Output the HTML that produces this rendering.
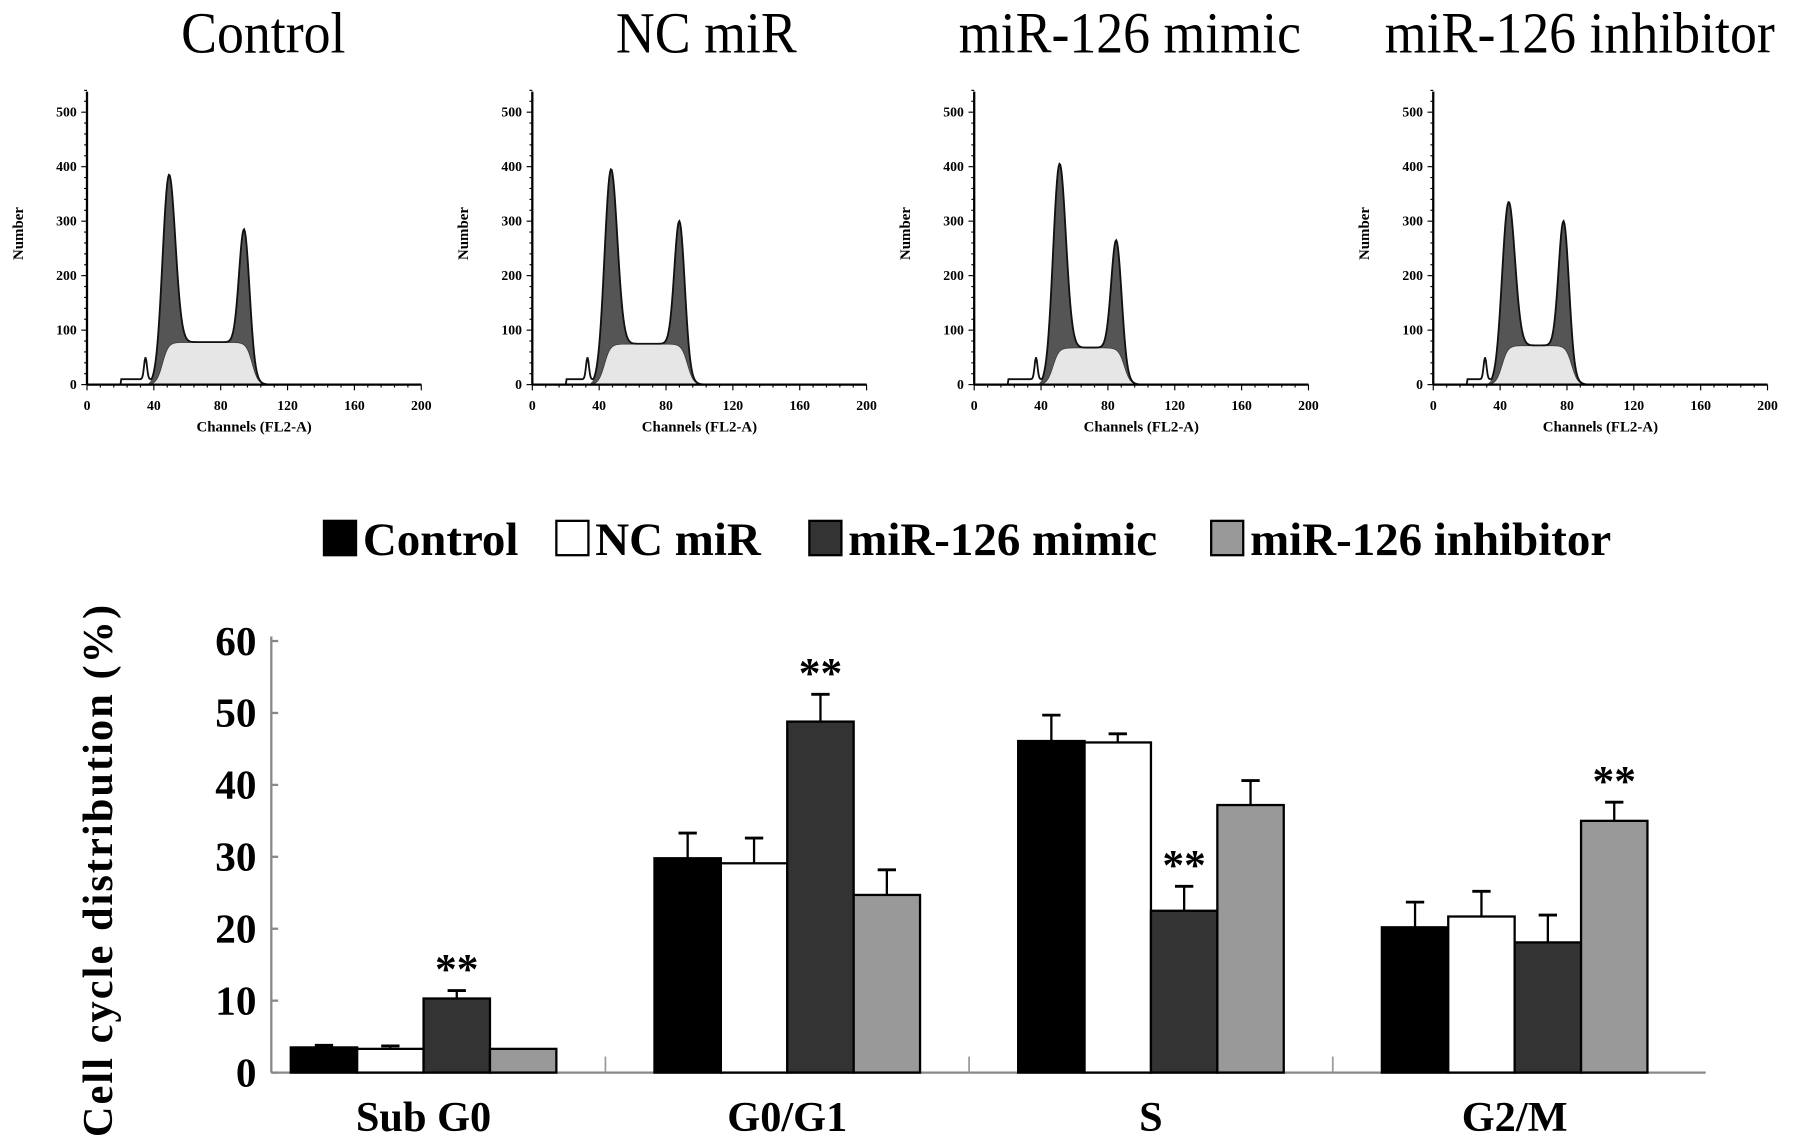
<!DOCTYPE html>
<html><head><meta charset="utf-8">
<style>
html,body{margin:0;padding:0;background:#fff;}
svg{display:block;font-family:"Liberation Serif",serif;}
</style></head>
<body>
<svg id="fig" width="1795" height="1147" viewBox="0 0 1568 1002" preserveAspectRatio="none" xmlns="http://www.w3.org/2000/svg">
<g id="hists"></g>
<g id="bars"></g>
</svg>
<script>
// ---- histogram data ----
const panelTitles = ["Control", "NC miR", "miR-126 mimic", "miR-126 inhibitor"];
const g1Pos = [49, 47, 51, 45];
const g1Height = [385, 395, 405, 335];
const g2Pos = [94, 88, 85, 78];
const g2Height = [285, 300, 265, 300];
const sLevel = [78, 75, 68, 72];
const histXTicks = [0, 40, 80, 120, 160, 200];
const histYTicks = [0, 100, 200, 300, 400, 500];

// ---- bar chart data ----
const categories = ["Sub G0", "G0/G1", "S", "G2/M"];
const seriesNames = ["Control", "NC miR", "miR-126 mimic", "miR-126 inhibitor"];
const controlVals = [3.5, 29.8, 46.1, 20.2];
const ncVals = [3.3, 29.1, 45.9, 21.7];
const mimicVals = [10.3, 48.8, 22.5, 18.1];
const inhibitorVals = [3.3, 24.7, 37.2, 35.0];
const controlErr = [0.3, 3.5, 3.6, 3.5];
const ncErr = [0.4, 3.5, 1.2, 3.5];
const mimicErr = [1.1, 3.8, 3.4, 3.8];
const inhibitorErr = [0, 3.5, 3.4, 2.6];
const starred = [[2, 0], [2, 1], [2, 2], [3, 3]]; // [series, category]
const yTicks = [0, 10, 20, 30, 40, 50, 60];

const NS = "http://www.w3.org/2000/svg";
function mk(tag, attrs, parent, text) {
  const e = document.createElementNS(NS, tag);
  for (const k in attrs) e.setAttribute(k, attrs[k]);
  if (text !== undefined) e.textContent = text;
  parent.appendChild(e);
  return e;
}

// ---------- histograms ----------
const hg = document.getElementById("hists");
const panelX0 = [76, 465, 851, 1252];
const titleX = [230, 617, 987, 1380];
const hy0 = 336, hyScale = (336 - 98) / 500, hxScale = (368 - 76) / 200;
for (let p = 0; p < 4; p++) {
  const g = mk("g", {}, hg);
  
  
  const X = c => panelX0[p] + c * hxScale;
  const Y = v => hy0 - v * hyScale;
  const t = mk("text", {x: titleX[p], y: 46, "font-size": 47, "text-anchor": "middle", transform: `translate(${titleX[p]},46) scale(1,1.08) translate(${-titleX[p]},-46)`}, g, panelTitles[p]);
  
  
  const p1 = g1Pos[p], p2 = g2Pos[p], s1 = 3.8, s2 = 3.0;
  const sig = (x) => 1 / (1 + Math.exp(-x));
  const sf = c => sLevel[p] * sig((c - (p1 - 4)) / 1.8) * sig(((p2 + 5) - c) / 1.8);
  const a1amp = g1Height[p] - sf(p1), a2amp = g2Height[p] - sf(p2);
  const g1 = c => a1amp * Math.exp(-((c - p1) ** 2) / (2 * s1 * s1));
  const g2 = c => a2amp * Math.exp(-((c - p2) ** 2) / (2 * s2 * s2));
  const debris = c => (c > 20 && c < p1 - 6 ? 10 : 0) + 40 * Math.exp(-((c - (p1 - 14)) ** 2) / 1.5);
  let sPath = "", env = "";
  for (let c = 0; c <= 200; c += 0.5) {
    const s = sf(c), a = g1(c), b = g2(c);
    const tot = Math.max(s + a + b, debris(c) * (c < p1 - 5 ? 1 : 0));
    sPath += (c === 0 ? "M" : "L") + X(c) + "," + Y(s);
    env += (c === 0 ? "M" : "L") + X(c) + "," + Y(tot);
  }
  sPath += "L" + X(200) + "," + Y(0) + "L" + X(0) + "," + Y(0) + "Z";
  function peakPath(lo, hi) {
    let top = "", bot = "";
    for (let c = lo; c <= hi; c += 0.5) {
      top += (c === lo ? "M" : "L") + X(c) + "," + Y(sf(c) + g1(c) + g2(c));
    }
    for (let c = hi; c >= lo; c -= 0.5) bot += "L" + X(c) + "," + Y(sf(c));
    return top + bot + "Z";
  }
  const sp = mk("path", {d: sPath, fill: "#e6e6e6", stroke: "#333", "stroke-width": 1.2}, g);
  
  
  const a1 = mk("path", {d: peakPath(p1 - 12, p1 + 12), fill: "#555", stroke: "none"}, g);
  
  
  const a2 = mk("path", {d: peakPath(p2 - 10, p2 + 10), fill: "#555", stroke: "none"}, g);
  
  
  const en = mk("path", {d: env, fill: "none", stroke: "#111", "stroke-width": 1.6}, g);
  
  
  mk("line", {x1: X(0), y1: 80, x2: X(0), y2: hy0, stroke: "#000", "stroke-width": 2}, g);
  mk("line", {x1: X(0), y1: hy0, x2: X(200), y2: hy0, stroke: "#000", "stroke-width": 2}, g);
  for (let v = 0; v <= 540; v += 20) mk("line", {x1: X(0) - (v % 100 === 0 ? 5 : 2.5), y1: Y(v), x2: X(0), y2: Y(v), stroke: "#000", "stroke-width": 1}, g);
  for (let c = 0; c <= 200; c += 8) mk("line", {x1: X(c), y1: hy0, x2: X(c), y2: hy0 + (c % 40 === 0 ? 5 : 2.5), stroke: "#000", "stroke-width": 1}, g);
  histYTicks.forEach(v => mk("text", {x: X(0) - 9, y: Y(v) + 4, "font-size": 12, "font-weight": "bold", "text-anchor": "end"}, g, v));
  histXTicks.forEach(c => mk("text", {x: X(c), y: 358, "font-size": 12, "font-weight": "bold", "text-anchor": "middle"}, g, c));
  const xl = mk("text", {x: X(100), y: 377, "font-size": 13, "font-weight": "bold", "text-anchor": "middle"}, g, "Channels (FL2-A)");
  
  
  const yl = mk("text", {x: 0, y: 0, "font-size": 13, "font-weight": "bold", "text-anchor": "middle", transform: `translate(${X(0) - 56},204) rotate(-90)`}, g, "Number");
  
  
}

// ---------- bar chart ----------
const bg = document.getElementById("bars");
const axX = 237, y0 = 937, yPer = (937 - 560) / 60;
const Yb = v => y0 - v * yPer;
const groupCenter = i => 370 + i * 317.7;
const barW = 58;
const fills = ["#000", "#fff", "#333", "#999"];
const vals = [controlVals, ncVals, mimicVals, inhibitorVals];
const errs = [controlErr, ncErr, mimicErr, inhibitorErr];

const legX = [283, 486, 707, 1058];
for (let s = 0; s < 4; s++) {
  const lg = mk("g", {}, bg);
  
  
  mk("rect", {x: legX[s], y: 455, width: 28, height: 30, fill: fills[s], stroke: "#000", "stroke-width": 2}, lg);
  mk("text", {x: legX[s] + 34, y: 485, "font-size": 41, "font-weight": "bold"}, lg, seriesNames[s]);
}
mk("line", {x1: axX, y1: 556, x2: axX, y2: y0, stroke: "#888", "stroke-width": 2}, bg);
mk("line", {x1: axX, y1: y0, x2: 1490, y2: y0, stroke: "#888", "stroke-width": 2}, bg);
yTicks.forEach(v => {
  mk("line", {x1: axX, y1: Yb(v), x2: axX + 6, y2: Yb(v), stroke: "#888", "stroke-width": 2}, bg);
  const t = mk("text", {x: 224, y: Yb(v) + 12, "font-size": 36, "font-weight": "bold", "text-anchor": "end"}, bg, v);
  
  
});
for (let i = 1; i < 4; i++) {
  const sx = (groupCenter(i - 1) + groupCenter(i)) / 2;
  mk("line", {x1: sx, y1: y0 - 14, x2: sx, y2: y0, stroke: "#999", "stroke-width": 1.5}, bg);
}
const yt = mk("text", {x: 0, y: 0, "font-size": 37, "font-weight": "bold", "text-anchor": "middle", "letter-spacing": 1.8, transform: "translate(98,760) rotate(-90)"}, bg, "Cell cycle distribution (%)");



for (let c = 0; c < 4; c++) {
  const cx = groupCenter(c);
  const cl = mk("text", {x: cx, y: 988, "font-size": 37, "font-weight": "bold", "text-anchor": "middle"}, bg, categories[c]);
  
  
  for (let s = 0; s < 4; s++) {
    const x = cx - 2 * barW + s * barW;
    const v = vals[s][c], e = errs[s][c];
    const bc = x + barW / 2;
    if (e > 0) {
      mk("line", {x1: bc, y1: Yb(v), x2: bc, y2: Yb(v + e), stroke: "#000", "stroke-width": 2}, bg);
      mk("line", {x1: bc - 8, y1: Yb(v + e), x2: bc + 8, y2: Yb(v + e), stroke: "#000", "stroke-width": 2.5}, bg);
    }
    const r = mk("rect", {x: x, y: Yb(v), width: barW, height: y0 - Yb(v), fill: fills[s], stroke: "#000", "stroke-width": 2}, bg);
    
    
  }
}
starred.forEach(([s, c]) => {
  const x = groupCenter(c) - 2 * barW + s * barW + barW / 2;
  const t = mk("text", {x: x, y: Yb(vals[s][c] + errs[s][c]) - 6, "font-size": 38, "font-weight": "bold", "text-anchor": "middle"}, bg, "**");
  
  
});
</script>
</body></html>
